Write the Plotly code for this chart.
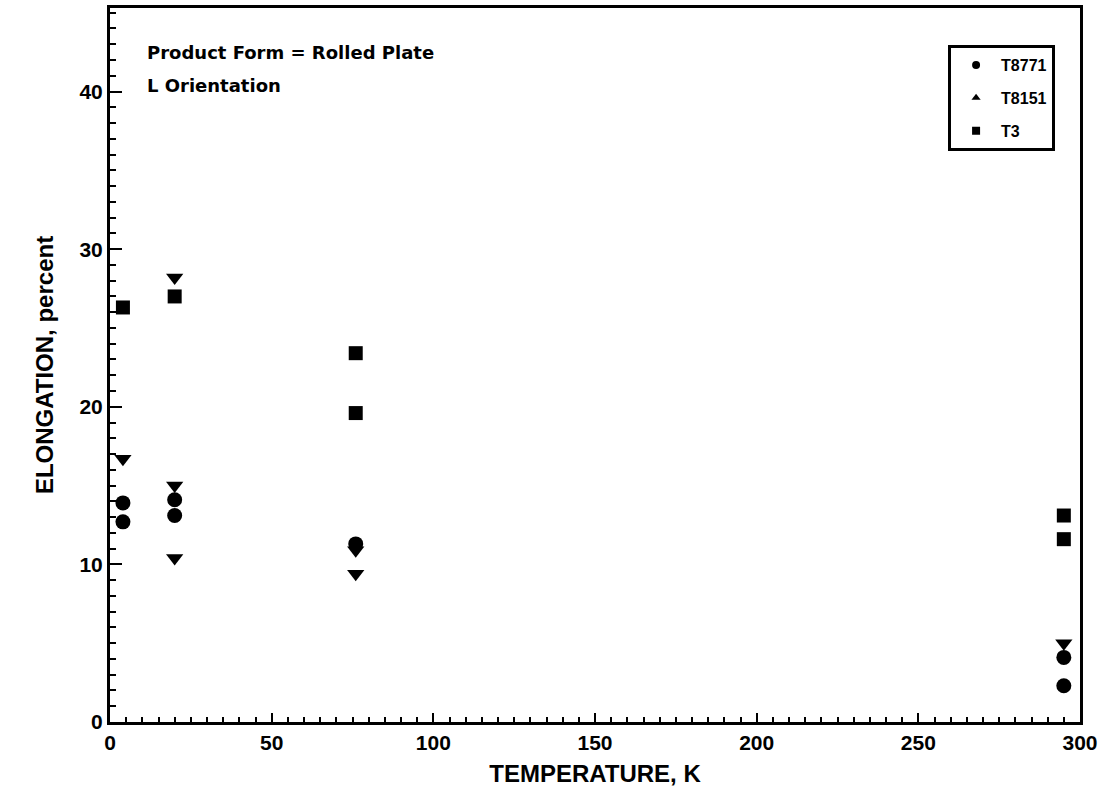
import plotly.graph_objects as go

# Data
t8771_temp = [4, 4, 20, 20, 76, 295, 295]
t8771_elong = [13.9, 12.7, 14.1, 13.1, 11.3, 4.1, 2.3]

t8151_temp = [4, 20, 20, 20, 76, 76, 295]
t8151_elong = [16.7, 28.2, 15.0, 10.4, 10.9, 9.4, 5.0]

t3_temp = [4, 20, 76, 76, 295, 295]
t3_elong = [26.3, 27.0, 23.4, 19.6, 13.1, 11.6]

series_names = ["T8771", "T8151", "T3"]
legend_symbols = ["circle", "triangle-up", "square"]
x_ticks = [0, 50, 100, 150, 200, 250, 300]
y_ticks = [0, 10, 20, 30, 40]

FONT = "Liberation Sans"
WIDE = "DejaVu Sans"
BLACK = "black"

fig = go.Figure()
fig.add_trace(go.Scatter(
    x=t8771_temp, y=t8771_elong, mode="markers", name=series_names[0],
    legendgroup="a", showlegend=False,
    marker=dict(symbol="circle", size=15, color=BLACK)))
fig.add_trace(go.Scatter(
    x=t8151_temp, y=t8151_elong, mode="markers", name=series_names[1],
    legendgroup="b", showlegend=False,
    marker=dict(symbol="triangle-down", size=15, color=BLACK)))
fig.add_trace(go.Scatter(
    x=t3_temp, y=t3_elong, mode="markers", name=series_names[2],
    legendgroup="c", showlegend=False,
    marker=dict(symbol="square", size=14, color=BLACK)))

# legend-only entries (small symbols as in the reference key)
for name, sym, grp in zip(series_names, legend_symbols, ["a", "b", "c"]):
    fig.add_trace(go.Scatter(
        x=[None], y=[None], mode="markers", name=name, legendgroup=grp,
        marker=dict(symbol=sym, size=8, color=BLACK)))

axis_common = dict(
    showline=True, linecolor=BLACK, linewidth=3, mirror=True,
    ticks="inside", tickcolor=BLACK, tickwidth=2,
    showgrid=False, zeroline=False,
    tickfont=dict(family=FONT, size=21, color=BLACK, weight="bold"),
)

fig.update_xaxes(
    range=[0, 300], tickvals=x_ticks, ticklen=9,
    minor=dict(dtick=5, ticks="inside", ticklen=5, tickcolor=BLACK, tickwidth=2),
    title=dict(text="TEMPERATURE, K", standoff=12,
               font=dict(family=FONT, size=24, color=BLACK, weight="bold")),
    **axis_common)
fig.update_yaxes(
    range=[0, 45.3], tickvals=y_ticks, ticklen=12,
    minor=dict(dtick=1, ticks="inside", ticklen=6, tickcolor=BLACK, tickwidth=2),
    title=dict(text="ELONGATION, percent", standoff=20,
               font=dict(family=FONT, size=24, color=BLACK, weight="bold")),
    **axis_common)

fig.add_annotation(
    x=0.036, y=0.937, xref="paper", yref="paper", xanchor="left", yanchor="middle",
    text="Product Form = Rolled Plate", showarrow=False,
    font=dict(family=WIDE, size=18, color=BLACK, weight="bold"))
fig.add_annotation(
    x=0.036, y=0.891, xref="paper", yref="paper", xanchor="left", yanchor="middle",
    text="L Orientation", showarrow=False,
    font=dict(family=WIDE, size=18, color=BLACK, weight="bold"))

fig.update_layout(
    width=1105, height=798,
    margin=dict(l=110, r=25, t=5, b=76),
    paper_bgcolor="white", plot_bgcolor="white",
    showlegend=True,
    legend=dict(
        x=0.864, y=0.948, xanchor="left", yanchor="top",
        bordercolor=BLACK, borderwidth=3, bgcolor="white",
        font=dict(family=FONT, size=16, color=BLACK, weight="bold"),
        tracegroupgap=9, itemwidth=40,
    ),
)

fig.write_html("out.html")
